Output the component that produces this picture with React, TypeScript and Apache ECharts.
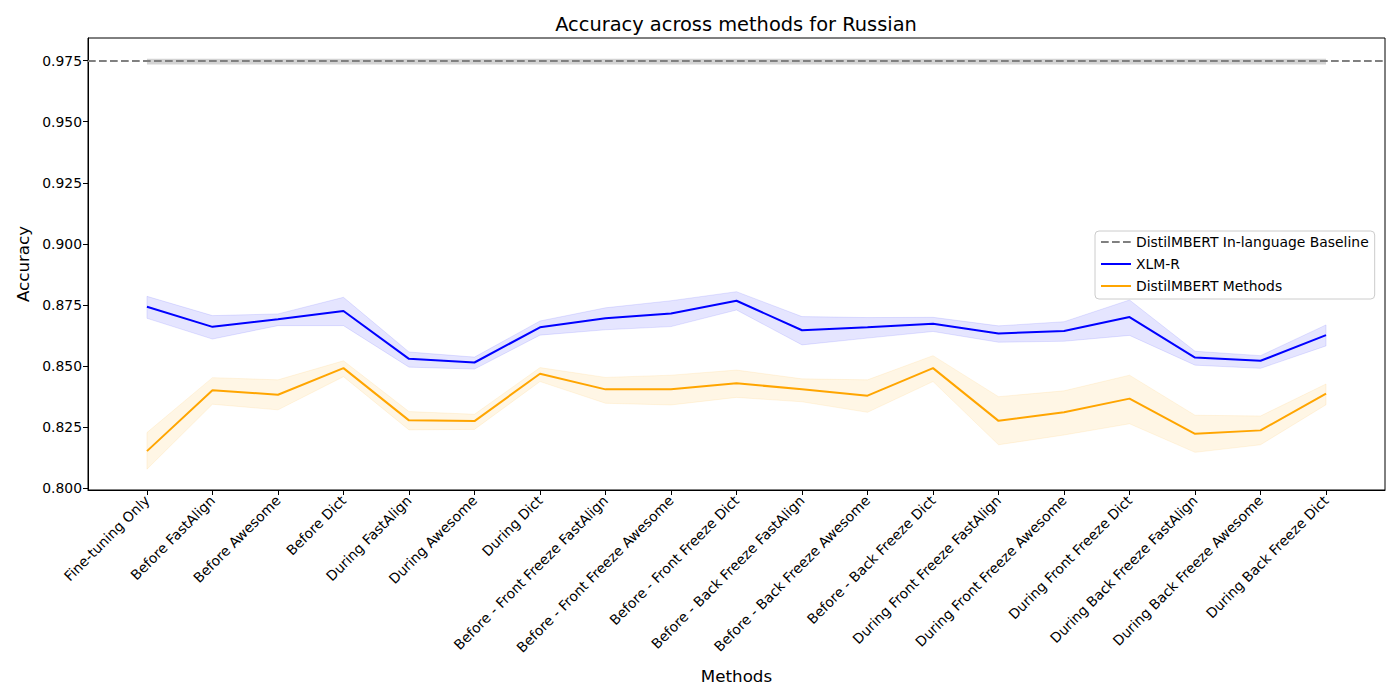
import React, { useRef, useEffect } from "react"
import * as echarts from "echarts"

// methods on the x axis, in plot order
const methods = [
  "Fine-tuning Only",
  "Before FastAlign",
  "Before Awesome",
  "Before Dict",
  "During FastAlign",
  "During Awesome",
  "During Dict",
  "Before - Front Freeze FastAlign",
  "Before - Front Freeze Awesome",
  "Before - Front Freeze Dict",
  "Before - Back Freeze FastAlign",
  "Before - Back Freeze Awesome",
  "Before - Back Freeze Dict",
  "During Front Freeze FastAlign",
  "During Front Freeze Awesome",
  "During Front Freeze Dict",
  "During Back Freeze FastAlign",
  "During Back Freeze Awesome",
  "During Back Freeze Dict",
]

// XLM-R mean and band
const xlmrMean = [0.8742, 0.866, 0.8691, 0.8725, 0.8529, 0.8514, 0.8658, 0.8695, 0.8715, 0.8767, 0.8646, 0.8658, 0.8673, 0.8633, 0.8643, 0.87, 0.8534, 0.8521, 0.8626]
const xlmrHigh = [0.8785, 0.8706, 0.8713, 0.8781, 0.8557, 0.8536, 0.8684, 0.8738, 0.8767, 0.8804, 0.8702, 0.8698, 0.8699, 0.8664, 0.8681, 0.877, 0.856, 0.8542, 0.8668]
const xlmrLow = [0.8695, 0.861, 0.8665, 0.8665, 0.8495, 0.8487, 0.8626, 0.8648, 0.8661, 0.8729, 0.8586, 0.8614, 0.8641, 0.8597, 0.8601, 0.8625, 0.8503, 0.849, 0.8582]

// DistilMBERT mean and band
const distilMean = [0.8151, 0.84, 0.8382, 0.8491, 0.8277, 0.8274, 0.8468, 0.8404, 0.8404, 0.8429, 0.8404, 0.8378, 0.8491, 0.8275, 0.831, 0.8366, 0.8222, 0.8236, 0.8387]
const distilHigh = [0.8227, 0.8452, 0.8443, 0.8521, 0.8313, 0.8302, 0.8493, 0.8453, 0.8462, 0.8483, 0.8447, 0.8443, 0.8542, 0.8374, 0.8398, 0.8462, 0.8298, 0.8295, 0.8426]
const distilLow = [0.8077, 0.8343, 0.832, 0.8456, 0.8238, 0.824, 0.8436, 0.8347, 0.834, 0.8371, 0.8353, 0.831, 0.8436, 0.8177, 0.8217, 0.8263, 0.8146, 0.8177, 0.8341]

// in-language baseline
const baselineMean = 0.9749
const baselineHigh = 0.9758
const baselineLow = 0.9734

const yTicks = [0.8, 0.825, 0.85, 0.875, 0.9, 0.925, 0.95, 0.975]

const FONT = "DejaVu Sans"

export default function App() {
  const chartRef = useRef<HTMLDivElement>(null)

  useEffect(() => {
    if (!chartRef.current) return
    const chart = echarts.init(chartRef.current, undefined, { renderer: "svg" })

    const xIdx = methods.map((_, i) => i)

    const bandRender = (lo: number[], hi: number[], fill: string, stroke: string) =>
      (params: any, api: any) => {
        if (params.dataIndex !== 0) return null
        const top = hi.map((v, i) => api.coord([i, v]))
        const bottom = lo.map((v, i) => api.coord([i, v])).reverse()
        return {
          type: "polygon",
          shape: { points: [...top, ...bottom] },
          style: { fill, stroke, lineWidth: 1 },
        }
      }

    const option = {
      animation: false,
      textStyle: { fontFamily: FONT },
      graphic: [
        {
          type: "text",
          x: 736,
          y: 24,
          style: {
            text: "Accuracy across methods for Russian",
            align: "center",
            verticalAlign: "middle",
            fontSize: 19.4,
            fontFamily: FONT,
            fill: "#000",
          },
        },
      ],
      legend: {
        orient: "vertical",
        left: 1095,
        top: 231,
        data: ["DistilMBERT In-language Baseline", "XLM-R", "DistilMBERT Methods"],
        itemWidth: 30,
        itemHeight: 14,
        itemGap: 8,
        padding: [4, 6, 6, 5],
        borderColor: "#cccccc",
        borderWidth: 1,
        borderRadius: 4,
        backgroundColor: "rgba(255,255,255,0.8)",
        itemStyle: { opacity: 0 },
        textStyle: { fontSize: 13.9, color: "#000", fontFamily: FONT },
      },
      grid: {
        left: 88,
        top: 38,
        width: 1297,
        height: 452,
        show: true,
        borderColor: "#000",
        borderWidth: 1,
        containLabel: false,
      },
      xAxis: {
        type: "value",
        min: -0.9,
        max: 18.9,
        name: "Methods",
        nameLocation: "middle",
        nameGap: 177,
        nameTextStyle: { fontSize: 16.7, color: "#000", fontFamily: FONT },
        axisLine: { show: true, onZero: false, lineStyle: { color: "#000", width: 1 } },
        axisTick: { show: true, customValues: xIdx, length: 5, lineStyle: { color: "#000" } },
        axisLabel: {
          customValues: xIdx,
          rotate: 45,
          fontSize: 13.9,
          color: "#000",
          margin: 8,
          fontFamily: FONT,
          formatter: (v: number) => methods[Math.round(v)] ?? "",
        },
        splitLine: { show: false },
      },
      yAxis: {
        type: "value",
        min: 0.79918,
        max: 0.9843,
        name: "Accuracy",
        nameLocation: "middle",
        nameRotate: 90,
        nameGap: 57,
        nameTextStyle: { fontSize: 16.7, color: "#000", fontFamily: FONT },
        axisLine: { show: true, onZero: false, lineStyle: { color: "#000", width: 1 } },
        axisTick: { show: true, customValues: yTicks, length: 5, lineStyle: { color: "#000" } },
        axisLabel: {
          customValues: yTicks,
          fontSize: 13.9,
          color: "#000",
          margin: 6,
          fontFamily: FONT,
          formatter: (v: number) => v.toFixed(3),
        },
        splitLine: { show: false },
      },
      series: [
        {
          // dashed baseline across the whole axes plus its shaded range
          type: "custom",
          name: "baselineBand",
          z: 1,
          silent: true,
          clip: false,
          data: [[0, baselineLow, baselineHigh]],
          encode: { x: 0, y: [1, 2] },
          renderItem: (params: any, api: any) => {
            const cs = params.coordSys
            const a = api.coord([0, baselineHigh])
            const b = api.coord([methods.length - 1, baselineLow])
            const yMid = api.coord([0, baselineMean])[1]
            return {
              type: "group",
              children: [
                {
                  type: "rect",
                  shape: { x: a[0], y: a[1], width: b[0] - a[0], height: b[1] - a[1] },
                  style: { fill: "rgba(128,128,128,0.35)" },
                },
                {
                  type: "line",
                  shape: { x1: cs.x, y1: yMid, x2: cs.x + cs.width, y2: yMid },
                  style: { stroke: "#808080", lineWidth: 2, lineDash: [7.7, 3.3] },
                },
              ],
            }
          },
        },
        {
          type: "line",
          name: "DistilMBERT In-language Baseline",
          data: [],
          symbol: "none",
          lineStyle: { color: "#808080", width: 2, type: [7.7, 3.3] },
          itemStyle: { color: "#808080" },
        },
        {
          type: "custom",
          name: "xlmrBand",
          z: 1,
          silent: true,
          data: methods.map((_, i) => [i, xlmrLow[i], xlmrHigh[i]]),
          encode: { x: 0, y: [1, 2] },
          renderItem: bandRender(xlmrLow, xlmrHigh, "rgba(0,0,255,0.1)", "rgba(0,0,255,0.1)"),
        },
        {
          type: "custom",
          name: "distilBand",
          z: 1,
          silent: true,
          data: methods.map((_, i) => [i, distilLow[i], distilHigh[i]]),
          encode: { x: 0, y: [1, 2] },
          renderItem: bandRender(distilLow, distilHigh, "rgba(255,165,0,0.1)", "rgba(255,165,0,0.1)"),
        },
        {
          type: "line",
          name: "XLM-R",
          z: 3,
          data: methods.map((_, i) => [i, xlmrMean[i]]),
          symbol: "none",
          lineStyle: { color: "#0000ff", width: 2 },
          itemStyle: { color: "#0000ff" },
        },
        {
          type: "line",
          name: "DistilMBERT Methods",
          z: 3,
          data: methods.map((_, i) => [i, distilMean[i]]),
          symbol: "none",
          lineStyle: { color: "#ffa500", width: 2 },
          itemStyle: { color: "#ffa500" },
        },
      ],
    }

    chart.setOption(option as any)

    return () => {
      chart.dispose()
    }
  }, [])

  return (
    <div
      ref={chartRef}
      style={{ position: "fixed", left: 0, top: 0, width: 1400, height: 700, background: "#fff" }}
    />
  )
}
